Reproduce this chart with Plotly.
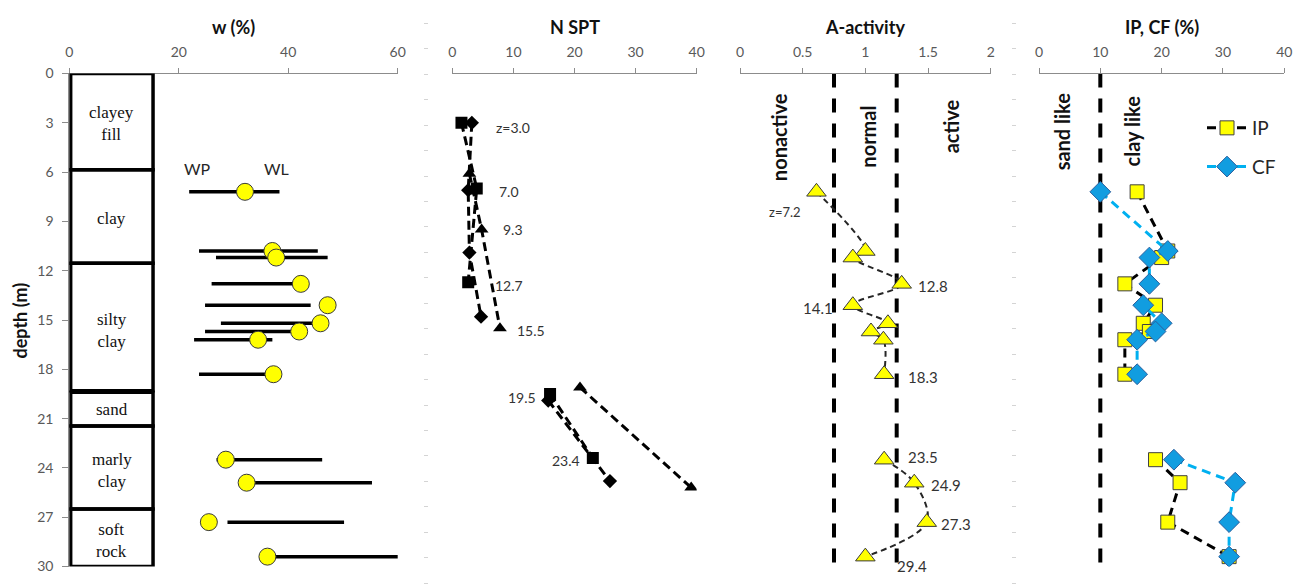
import plotly.graph_objects as go

# ---------------- data ----------------
# soil column
SOIL_NAMES = ["clayey<br>fill", "clay", "silty<br>clay", "sand", "marly<br>clay", "soft<br>rock"]
SOIL_TOP = [0.0, 5.85, 11.55, 19.4, 21.45, 26.5]
SOIL_BOTTOM = [5.85, 11.55, 19.3, 21.45, 26.5, 30.0]
SOIL_LABEL_DEPTH = [3.03, 8.81, 15.61, 20.44, 24.13, 28.39]

# sample depths (m)
DEPTH = [7.2, 10.8, 11.2, 12.8, 14.1, 15.2, 15.7, 16.2, 18.3, 23.5, 24.9, 27.3, 29.4]
# water content and Atterberg limits (%)
W = [32.1, 37.1, 37.8, 42.3, 47.2, 45.9, 42.0, 34.5, 37.3, 28.6, 32.4, 25.5, 36.2]
WP = [21.9, 23.7, 26.8, 26.0, 24.8, 27.7, 24.8, 22.8, 23.7, 26.9, 31.0, 28.9, 35.0]
WL = [38.4, 45.4, 47.2, 41.5, 44.1, 44.5, 40.5, 37.1, 36.0, 46.2, 55.3, 50.2, 60.2]
# activity
A = [0.61, 1.0, 0.9, 1.29, 0.9, 1.18, 1.045, 1.144, 1.15, 1.15, 1.39, 1.49, 1.0]
A_LIMITS = [0.75, 1.25]
A_LABEL_TEXT = ["z=7.2", "12.8", "14.1", "18.3", "23.5", "24.9", "27.3", "29.4"]
A_LABEL_X = [0.36, 1.54, 0.62, 1.46, 1.46, 1.64, 1.72, 1.37]
A_LABEL_Y = [8.41, 12.93, 14.25, 18.47, 23.34, 25.06, 27.44, 29.99]
# plasticity index and clay fraction (%)
IP = [16, 21, 20, 14, 19, 17, 18, 14, 14, 19, 23, 21, 31]
CF = [10, 21, 18, 18, 17, 20, 19, 16, 16, 22, 32, 31, 31]
CF_LIMIT = 10
BREAK_AFTER = 8  # no line between 18.3 m and 23.5 m

# N SPT (three series)
NSQ_D = [3.0, 7.0, 12.7, None, 19.5, 23.4]
NSQ_N = [1.5, 4.0, 2.6, None, 16.0, 23.0]
NDI_D = [3.0, 7.1, 10.9, 14.8, None, 19.9, 24.8]
NDI_N = [3.2, 2.6, 2.8, 4.7, None, 15.7, 25.8]
NTR_D = [6.1, 9.5, 15.5, None, 19.1, 25.2]
NTR_N = [2.8, 4.8, 7.8, None, 20.9, 39.1]
N_LABEL_TEXT = ["z=3.0", "7.0", "9.3", "12.7", "15.5", "19.5", "23.4"]
N_LABEL_X = [10.0, 9.2, 10.0, 9.3, 12.9, 11.4, 18.6]
N_LABEL_Y = [3.3, 7.15, 9.48, 12.87, 15.65, 19.7, 23.57]

W_TICKS = [0, 20, 40, 60]
N_TICKS = [0, 10, 20, 30, 40]
A_TICKS = [0, 0.5, 1, 1.5, 2]
P_TICKS = [0, 10, 20, 30, 40]
DEPTH_TICKS = list(range(0, 31, 3))

# ---------------- helpers ----------------
FONT = "Lato, Carlito, sans-serif"
W_PX, H_PX = 1297, 584


def px_x(p):
    return p / W_PX


def px_y(p):
    return 1 - p / H_PX


def with_break(vals, brk):
    return list(vals[:brk + 1]) + [None] + list(vals[brk + 1:])


YDOM = [px_y(566.5), px_y(73.5)]
XDOMS = [
    [px_x(69.3), px_x(397.7)],
    [px_x(452.3), px_x(696.7)],
    [px_x(740.0), px_x(990.7)],
    [px_x(1039.0), px_x(1284.3)],
]

fig = go.Figure()

# ---- panel 1 : w ----
bx, by = [], []
for d, a, b in zip(DEPTH, WP, WL):
    bx += [a, b, None]
    by += [d, d, None]
fig.add_trace(go.Scatter(x=bx, y=by, mode="lines", line=dict(color="black", width=3.5),
                         xaxis="x", yaxis="y", showlegend=False, hoverinfo="skip"))
fig.add_trace(go.Scatter(x=W, y=DEPTH, mode="markers",
                         marker=dict(symbol="circle", size=17, color="#FFFF00",
                                     line=dict(color="#3a3a3a", width=1)),
                         xaxis="x", yaxis="y", showlegend=False))

# ---- panel 2 : N SPT ----
dash_n = "9px,5px"
fig.add_trace(go.Scatter(x=NSQ_N, y=NSQ_D, mode="lines+markers",
                         line=dict(color="black", width=3, dash=dash_n),
                         marker=dict(symbol="square", size=12, color="black"),
                         xaxis="x2", yaxis="y2", showlegend=False))
fig.add_trace(go.Scatter(x=NDI_N, y=NDI_D, mode="lines+markers",
                         line=dict(color="black", width=3, dash=dash_n),
                         marker=dict(symbol="diamond", size=11, color="black"),
                         xaxis="x2", yaxis="y2", showlegend=False))
fig.add_trace(go.Scatter(x=NTR_N, y=NTR_D, mode="lines+markers",
                         line=dict(color="black", width=3, dash=dash_n),
                         marker=dict(symbol="triangle-up", size=12, color="black"),
                         xaxis="x2", yaxis="y2", showlegend=False))

# ---- panel 3 : activity ----
for lim in A_LIMITS:
    fig.add_trace(go.Scatter(x=[lim, lim], y=[DEPTH_TICKS[0], DEPTH_TICKS[-1]], mode="lines",
                             line=dict(color="black", width=4, dash="14px,11px"),
                             xaxis="x3", yaxis="y3", showlegend=False, hoverinfo="skip"))
fig.add_trace(go.Scatter(x=with_break(A, BREAK_AFTER), y=with_break(DEPTH, BREAK_AFTER),
                         mode="lines+markers", line=dict(color="#262626", width=2, dash="6px,4px",
                                                         shape="spline"),
                         marker=dict(symbol="triangle-up", size=17, color="#FFFF00",
                                     line=dict(color="#3a3a3a", width=1)),
                         xaxis="x3", yaxis="y3", showlegend=False))

# ---- panel 4 : IP, CF ----
fig.add_trace(go.Scatter(x=[CF_LIMIT, CF_LIMIT], y=[DEPTH_TICKS[0], DEPTH_TICKS[-1]], mode="lines",
                         line=dict(color="black", width=4, dash="14px,11px"),
                         xaxis="x4", yaxis="y4", showlegend=False, hoverinfo="skip"))
fig.add_trace(go.Scatter(x=with_break(IP, BREAK_AFTER), y=with_break(DEPTH, BREAK_AFTER),
                         mode="lines+markers", name="IP", legendgroup="ip",
                         line=dict(color="black", width=3, dash="9px,6px"),
                         marker=dict(symbol="square", size=14, color="#FFFF00",
                                     line=dict(color="#404040", width=1)),
                         xaxis="x4", yaxis="y4"))
fig.add_trace(go.Scatter(x=with_break(CF, BREAK_AFTER), y=with_break(DEPTH, BREAK_AFTER),
                         mode="lines+markers", name="CF", legendgroup="cf",
                         line=dict(color="#00B0F0", width=3, dash="9px,6px"),
                         marker=dict(symbol="diamond", size=16, color="#119DE0",
                                     line=dict(color="#2A5F9E", width=1)),
                         xaxis="x4", yaxis="y4"))

# faint ticks of hidden axes
fig.add_trace(go.Scatter(x=[None], y=[None], xaxis="x2", yaxis="y5", showlegend=False))
fig.add_trace(go.Scatter(x=[None], y=[None], xaxis="x4", yaxis="y6", showlegend=False))

# ---------------- axes ----------------
axis_grey = "#8c8c8c"
tickfont = dict(family=FONT, size=14, color="#595959")


def xaxis(dom, rng, ticks, anchor):
    return dict(domain=dom, range=rng, tickvals=ticks, side="top", anchor=anchor,
                showline=True, linecolor=axis_grey, linewidth=1, ticks="outside",
                ticklen=5, tickcolor=axis_grey, showgrid=False, zeroline=False,
                tickfont=tickfont, fixedrange=True, automargin=False,
                ticklabelstandoff=5)


hidden_y = dict(domain=YDOM, range=[30, 0], visible=False, fixedrange=True, automargin=False)

fig.update_layout(
    width=W_PX, height=H_PX,
    margin=dict(l=0, r=0, t=0, b=0, autoexpand=False),
    paper_bgcolor="white", plot_bgcolor="rgba(0,0,0,0)",
    font=dict(family=FONT, color="#262626"),
    xaxis=xaxis(XDOMS[0], [0, 60], W_TICKS, "y"),
    xaxis2=xaxis(XDOMS[1], [0, 40], N_TICKS, "y2"),
    xaxis3=xaxis(XDOMS[2], [0, 2], A_TICKS, "y3"),
    xaxis4=xaxis(XDOMS[3], [0, 40], P_TICKS, "y4"),
    yaxis=dict(domain=YDOM, range=[30, 0], tickvals=DEPTH_TICKS, anchor="x",
               showline=True, linecolor=axis_grey, linewidth=1, ticks="outside",
               ticklen=6, tickcolor=axis_grey, showgrid=False, zeroline=False,
               tickfont=tickfont, fixedrange=True, automargin=False,
               ticklabelstandoff=6),
    yaxis2=dict(hidden_y, anchor="x2"),
    yaxis3=dict(hidden_y, anchor="x3"),
    yaxis4=dict(hidden_y, anchor="x4"),
    yaxis5=dict(domain=[0, 1], range=[H_PX, 0], anchor="free", position=px_x(428),
                tick0=23.3, dtick=25.45, ticks="outside", ticklen=4, tickcolor="#d4d4d4",
                showticklabels=False, showline=False, showgrid=False, zeroline=False,
                automargin=False),
    yaxis6=dict(domain=[0, 1], range=[H_PX, 0], anchor="free", position=px_x(1016),
                tick0=23.3, dtick=25.45, ticks="outside", ticklen=4, tickcolor="#d4d4d4",
                showticklabels=False, showline=False, showgrid=False, zeroline=False,
                automargin=False),
    legend=dict(x=px_x(1202), y=px_y(109), xanchor="left", yanchor="top",
                font=dict(family=FONT, size=19, color="#262626"),
                bgcolor="rgba(0,0,0,0)", tracegroupgap=11, itemwidth=40),
    showlegend=True,
)

# soil column boxes
for top, bot in zip(SOIL_TOP, SOIL_BOTTOM):
    fig.add_shape(type="rect", xref="x", yref="y", x0=0.25, x1=15.3, y0=top, y1=bot,
                  line=dict(color="black", width=3.5), fillcolor="rgba(0,0,0,0)", layer="above")

ann = []


def add_text(x, y, xr, yr, text, size, family=FONT, color="#262626", angle=0, yshift=0):
    ann.append(dict(x=x, y=y, xref=xr, yref=yr, text=text, showarrow=False,
                    xanchor="center", yanchor="middle", textangle=angle, yshift=yshift,
                    font=dict(family=family, size=size, color=color)))


for name, d in zip(SOIL_NAMES, SOIL_LABEL_DEPTH):
    add_text(7.8, d, "x", "y", name, 17, family="Liberation Serif", color="#111111")
add_text(23.5, 5.77, "x", "y", "WP", 16)
add_text(37.9, 5.77, "x", "y", "WL", 16)

for t, x, y in zip(N_LABEL_TEXT, N_LABEL_X, N_LABEL_Y):
    add_text(x, y, "x2", "y2", t, 14, color="#333333")
for t, x, y in zip(A_LABEL_TEXT, A_LABEL_X, A_LABEL_Y):
    add_text(x, y, "x3", "y3", t, 13 if t.startswith("z") else 15, color="#333333")

for t, x, y, xr, yr in [("nonactive", 0.306, 3.85, "x3", "y3"),
                        ("normal", 1.02, 3.85, "x3", "y3"),
                        ("active", 1.68, 3.24, "x3", "y3"),
                        ("sand like", 3.7, 3.54, "x4", "y4"),
                        ("clay like", 15.1, 3.49, "x4", "y4")]:
    add_text(x, y, xr, yr, "<b>%s</b>" % t, 20, color="#111111", angle=-90)

# panel titles
for t, xr in [("w (%)", "x domain"), ("N SPT", "x2 domain"),
              ("A-activity", "x3 domain"), ("IP, CF (%)", "x4 domain")]:
    add_text(0.5, px_y(27), xr, "paper", "<b>%s</b>" % t, 18, color="#111111")
add_text(px_x(20), px_y(320.5), "paper", "paper", "<b>depth (m)</b>", 18,
         color="#111111", angle=-90)

fig.update_layout(annotations=ann)

fig.write_html("out.html")
